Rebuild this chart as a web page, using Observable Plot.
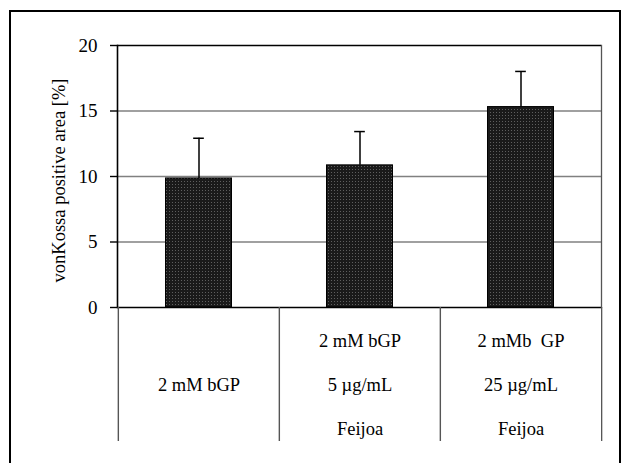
<!DOCTYPE html>
<html>
<head>
<meta charset="utf-8">
<script src="https://cdn.jsdelivr.net/npm/d3@7"></script>
<script src="https://cdn.jsdelivr.net/npm/@observablehq/plot@0.6"></script>
<style>
  html, body { margin: 0; padding: 0; background: #fff; overflow: hidden; }
  #wrap { position: relative; width: 627px; height: 463px; }
  #border { position: absolute; left: 9px; top: 10px; width: 612px; height: 470px;
            border: 2.5px solid #000; border-bottom: none; box-sizing: border-box; }
  #chart { position: absolute; left: 0; top: 0; }
  #chart svg text { white-space: pre; }
</style>
</head>
<body>
<div id="wrap">
  <div id="border"></div>
  <div id="chart"></div>
</div>
<script>
const categories = ["2 mM bGP", "2 mM bGP + 5 µg/mL Feijoa", "2 mMb GP + 25 µg/mL Feijoa"];
const labelLines = [
  ["\u00a0", "2 mM bGP", "\u00a0"],
  ["2 mM bGP", "5 µg/mL", "Feijoa"],
  ["2 mMb  GP", "25 µg/mL", "Feijoa"]
];
const values = [9.85, 10.85, 15.3];
const errors = [3.07, 2.58, 2.72];
const yTicks = [0, 5, 10, 15, 20];
const gridValues = [5, 10, 15];
const yLabel = "vonKossa positive area [%]";

const data = categories.map((c, i) => ({cat: c, value: values[i], err: errors[i], top: values[i] + errors[i]}));

const W = 627, H = 463, mL = 117, mR = 26, mT = 45, mB = 156;
const bw = (W - mL - mR) / categories.length;
const font = "'Liberation Serif', 'Times New Roman', serif";

const chart = Plot.plot({
  width: W, height: H,
  marginLeft: mL, marginRight: mR, marginTop: mT, marginBottom: mB,
  style: {fontFamily: font, fontSize: "18.5px", color: "#000", background: "transparent"},
  x: {domain: categories, padding: 0, axis: null, label: null},
  y: {domain: [0, 20], axis: null, label: null},
  marks: [
    Plot.ruleY(gridValues, {stroke: "#808080", strokeWidth: 1.5}),
    Plot.ruleY([20], {stroke: "#000", strokeWidth: 1.6}),
    Plot.barY(data, {x: "cat", y: "value", fill: "url(#dots)", stroke: "#000", strokeWidth: 1, insetLeft: 47.5, insetRight: 47.5}),
    Plot.ruleX(data, {x: "cat", y1: "value", y2: "top", stroke: "#000", strokeWidth: 1.5}),
    Plot.tickY(data, {x: "cat", y: "top", stroke: "#000", strokeWidth: 1.5, insetLeft: (bw - 11) / 2, insetRight: (bw - 11) / 2}),
    Plot.ruleY([0], {stroke: "#000", strokeWidth: 1.6}),
    Plot.frame({anchor: "left", stroke: "#000", strokeWidth: 1.6}),
    Plot.frame({anchor: "right", stroke: "#555", strokeWidth: 1.3}),
    // table separators below the axis
    Plot.axisX({tickSize: 134, tickFormat: () => "", label: null, dx: -bw / 2, stroke: "#555", strokeWidth: 1.4}),
    Plot.axisX({ticks: [categories[categories.length - 1]], tickSize: 134, tickFormat: () => "", label: null, dx: bw / 2, stroke: "#555", strokeWidth: 1.3}),
    // category labels
    Plot.axisX({tickSize: 0, tickPadding: 9, lineHeight: 2.36, fontSize: 18.5, label: null,
      tickFormat: d => labelLines[categories.indexOf(d)].join("\n")}),
    Plot.axisY({ticks: yTicks, tickSize: 7, tickPadding: 13, fontSize: 19, label: null, stroke: "#000", strokeWidth: 1.4}),
    Plot.text([yLabel], {frameAnchor: "left", rotate: -90, dx: -58, dy: 4, fontSize: 18.5, text: d => d,
      textAnchor: "middle", lineAnchor: "middle"})
  ]
});

const ns = "http://www.w3.org/2000/svg";
const defs = document.createElementNS(ns, "defs");
defs.innerHTML = '<pattern id="dots" width="3" height="3" patternUnits="userSpaceOnUse">' +
  '<rect width="3" height="3" fill="#1a1a1a"/><rect x="1" y="1" width="1" height="1" fill="#5e5e5e"/></pattern>';
chart.insertBefore(defs, chart.firstChild);
document.getElementById("chart").appendChild(chart);
</script>
</body>
</html>
